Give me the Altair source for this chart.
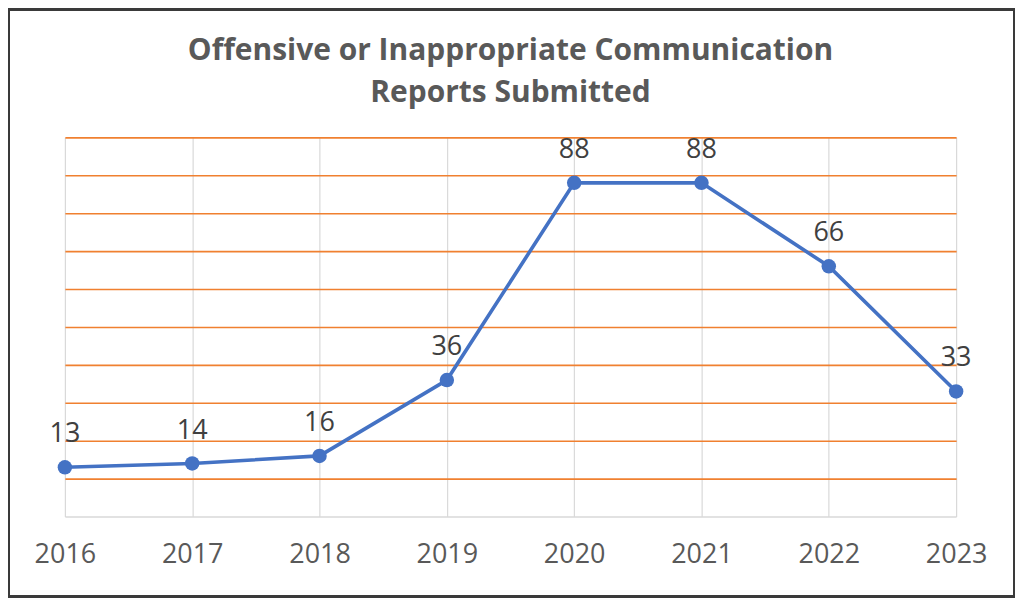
import altair as alt
import pandas as pd

years = ["2016", "2017", "2018", "2019", "2020", "2021", "2022", "2023"]
reports = [13, 14, 16, 36, 88, 88, 66, 33]
grid_values = [10, 20, 30, 40, 50, 60, 70, 80, 90, 100]

df = pd.DataFrame({"year": years, "reports": reports})

FONT = "Open Sans"

x = alt.X(
    "year:N",
    scale=alt.Scale(type="point", padding=0),
    axis=alt.Axis(
        title=None, grid=True, gridColor="#D9D9D9", gridWidth=1.2,
        domain=True, domainColor="#D9D9D9", domainWidth=1.5,
        ticks=False, labelFontSize=27, labelFont=FONT, labelColor="#595959",
        labelPadding=25, labelAngle=0,
    ),
)
y = alt.Y(
    "reports:Q",
    scale=alt.Scale(domain=[0, 100], nice=False, zero=True),
    axis=alt.Axis(
        title=None, values=grid_values, grid=True, gridColor="#F08030",
        gridWidth=1.6, labels=False, ticks=False, domain=False,
    ),
)

base = alt.Chart(df)

frame = base.mark_rect(
    fill=None, stroke="#3A3A3A", strokeWidth=2, fillOpacity=0
).encode(
    x=alt.value(-56), x2=alt.value(951), y=alt.value(-128), y2=alt.value(460)
)

line = base.mark_line(color="#4472C4", strokeWidth=3.6).encode(x=x, y=y)
points = base.mark_point(
    filled=True, color="#4472C4", size=210, opacity=1
).encode(x=x, y=y)
labels = base.mark_text(
    fontSize=27, font=FONT, color="#404040", baseline="middle", dy=-33
).encode(x=x, y=y, text="reports:Q")

chart = (
    alt.layer(line, points, labels, frame)
    .properties(
        width=893,
        height=380,
        autosize=alt.AutoSizeParams(type="none"),
        padding={"left": 57, "top": 129, "right": 60, "bottom": 82},
        title=alt.TitleParams(
            text=["Offensive or Inappropriate Communication", "Reports Submitted"],
            font=FONT, fontSize=30, fontWeight="bold", color="#595959",
            anchor="middle", frame="group", offset=-100, lineHeight=42,
        ),
        background="white",
    )
    .configure_view(stroke=None)
)

chart.save("out.html", embed_options={"renderer": "svg", "actions": False})
